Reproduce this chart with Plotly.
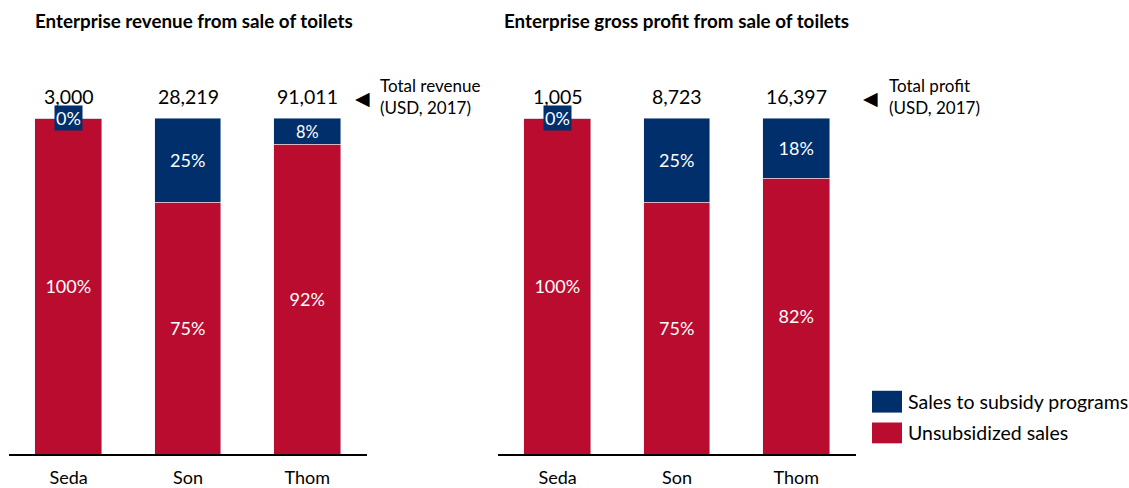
import plotly.graph_objects as go
from plotly.subplots import make_subplots

companies = ["Seda", "Son", "Thom"]
rev_subsidy = [0, 25, 8]
rev_unsub = [100, 75, 92]
rev_totals = ["3,000", "28,219", "91,011"]
prof_subsidy = [0, 25, 18]
prof_unsub = [100, 75, 82]
prof_totals = ["1,005", "8,723", "16,397"]
titles = ["Enterprise revenue from sale of toilets", "Enterprise gross profit from sale of toilets"]
total_notes = ["Total revenue<br>(USD, 2017)", "Total profit<br>(USD, 2017)"]
series_names = ["Sales to subsidy programs", "Unsubsidized sales"]

RED = "#BA0C2F"
BLUE = "#002F6C"
FONT = "Lato, 'Open Sans', sans-serif"

W, H = 1129, 488


def px(xp):
    return xp / W


def py(yp):
    return 1 - yp / H


BASE, TOP100, AXTOP = 458, 119, 60
YMAX = 100 * (BASE - AXTOP) / (BASE - TOP100)
TOTAL_Y = 100 * (BASE - 97) / (BASE - TOP100)

fig = make_subplots(rows=1, cols=2)

panels = [(rev_subsidy, rev_unsub, rev_totals), (prof_subsidy, prof_unsub, prof_totals)]
for i, (sub, uns, tot) in enumerate(panels):
    col = i + 1
    fig.add_trace(go.Bar(x=companies, y=uns, name=series_names[1], marker_color=RED,
                         text=[f"{v}%" for v in uns], textposition="inside",
                         insidetextanchor="middle", textangle=0,
                         textfont=dict(color="white", size=18, family=FONT),
                         width=0.56, showlegend=False, hoverinfo="skip"), row=1, col=col)
    fig.add_trace(go.Bar(x=companies, y=sub, name=series_names[0], marker_color=BLUE,
                         text=[f"{v}%" if v > 0 else "" for v in sub], textposition="inside",
                         insidetextanchor="middle", textangle=0,
                         textfont=dict(color="white", size=18, family=FONT),
                         width=0.56, showlegend=False, hoverinfo="skip"), row=1, col=col)
    xref = "x" if i == 0 else "x2"
    yref = "y" if i == 0 else "y2"
    for c, s, t in zip(companies, sub, tot):
        fig.add_annotation(x=c, y=TOTAL_Y, xref=xref, yref=yref, text=t, showarrow=False,
                           font=dict(size=19.5, color="black", family=FONT), yanchor="middle")
        if s == 0:
            fig.add_annotation(x=c, y=100, xref=xref, yref=yref, text="0%", showarrow=False,
                               font=dict(size=18, color="white", family=FONT),
                               bgcolor=BLUE, yanchor="middle", borderpad=1)

fig.update_layout(barmode="stack")

px0 = [9, 498]
px1 = [367, 856]
for i in range(2):
    ax = "xaxis" if i == 0 else "xaxis2"
    ay = "yaxis" if i == 0 else "yaxis2"
    fig.update_layout(**{
        ax: dict(domain=[px(px0[i]), px(px1[i])], range=[-0.5, 2.5], showline=True,
                 linecolor="black", linewidth=1.5, ticks="", showgrid=False,
                 ticklabelstandoff=6,
                 tickfont=dict(size=18, color="black", family=FONT), fixedrange=True),
        ay: dict(domain=[py(BASE), py(AXTOP)], range=[0, YMAX],
                 visible=False, showgrid=False, fixedrange=True),
    })

# titles
for tx, title in [(33, titles[0]), (502, titles[1])]:
    fig.add_annotation(x=px(tx), y=py(21), xref="paper", yref="paper", text=f"<b>{title}</b>",
                       showarrow=False, xanchor="left", yanchor="middle",
                       font=dict(size=18.8, color="black", family=FONT))

# total notes with arrows
for ax_px, tx_px, note in [(362, 378, total_notes[0]), (870, 887, total_notes[1])]:
    fig.add_annotation(x=px(ax_px), y=py(99), xref="paper", yref="paper", text="◀",
                       showarrow=False, xanchor="center", yanchor="middle",
                       font=dict(size=19, color="black", family="DejaVu Sans"))
    fig.add_annotation(x=px(tx_px), y=py(97), xref="paper", yref="paper", text=note,
                       showarrow=False, xanchor="left", yanchor="middle", align="left",
                       font=dict(size=17, color="black", family=FONT))

# legend
for (y0, y1, colr, name) in [(394, 416, BLUE, series_names[0]), (426, 447, RED, series_names[1])]:
    fig.add_shape(type="rect", xref="paper", yref="paper", x0=px(872), x1=px(902),
                  y0=py(y1), y1=py(y0), fillcolor=colr, line=dict(width=0))
    fig.add_annotation(x=px(906), y=py((y0 + y1) / 2), xref="paper", yref="paper", text=name,
                       showarrow=False, xanchor="left", yanchor="middle",
                       font=dict(size=19.5, color="black", family=FONT))

fig.update_layout(width=W, height=H, margin=dict(l=0, r=0, t=0, b=0),
                  plot_bgcolor="white", paper_bgcolor="white", bargap=0,
                  font=dict(family=FONT), showlegend=False)

fig.write_html("out.html", config={"displayModeBar": False},
               post_script="document.body.style.margin='0';document.body.style.overflow='hidden';")
